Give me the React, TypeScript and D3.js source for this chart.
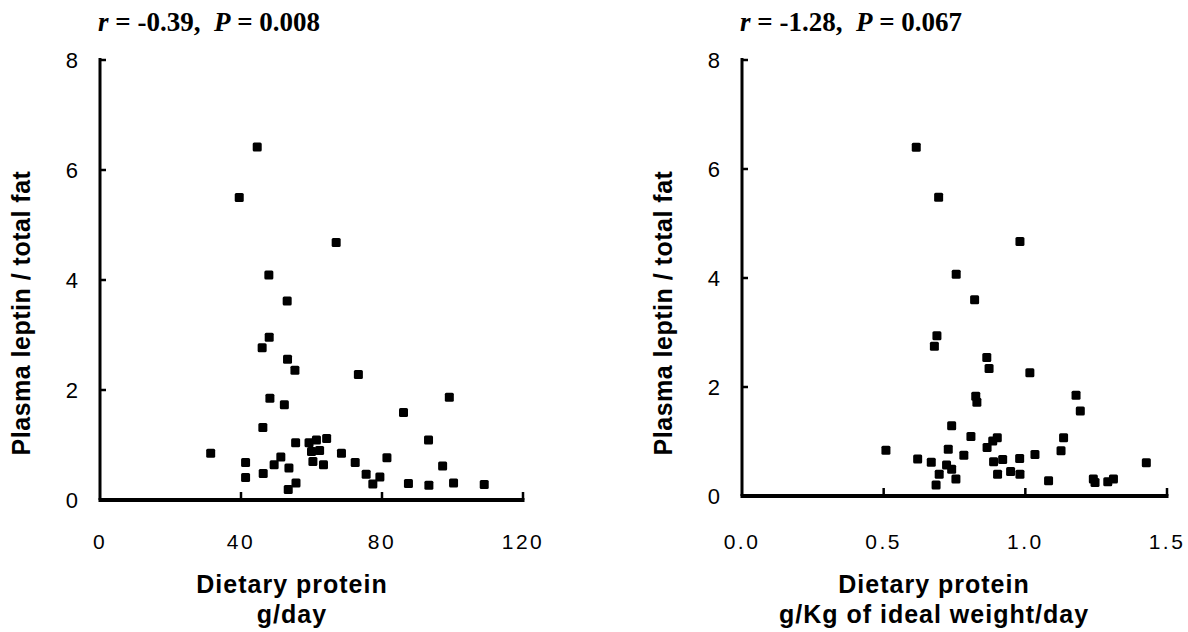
import React from "react";
import * as d3 from "d3";

// left panel: dietary protein (g/day) vs leptin / total fat
const proteinPerDay = [
  44.6, 39.5, 67.0, 47.9, 53.1, 48.0, 46.0, 53.2, 55.3, 73.3, 99.1, 48.2, 52.3, 86.1, 46.2,
  93.2, 55.5, 59.3, 61.4, 64.3, 31.4, 60.0, 62.3, 68.5, 41.3, 51.3, 49.4, 53.6, 60.4, 63.4,
  72.4, 81.4, 97.2, 41.3, 46.3, 75.5, 79.4, 77.4, 55.6, 53.4, 87.5, 93.3, 100.3, 109.0,
];
const leptinRatioA = [
  6.42, 5.5, 4.68, 4.09, 3.62, 2.96, 2.77, 2.56, 2.36, 2.28, 1.87, 1.85, 1.73, 1.59, 1.32,
  1.09, 1.04, 1.04, 1.09, 1.12, 0.85, 0.88, 0.9, 0.85, 0.68, 0.78, 0.64, 0.58, 0.7, 0.64,
  0.68, 0.77, 0.62, 0.41, 0.48, 0.47, 0.42, 0.29, 0.31, 0.19, 0.3, 0.27, 0.31, 0.28,
];

// right panel: dietary protein (g/Kg of ideal weight/day)
const proteinPerKg = [
  0.615, 0.694, 0.981, 0.756, 0.821, 0.688, 0.679, 0.864, 0.872, 1.016, 1.179, 0.825, 0.829,
  1.194, 0.74, 0.808, 1.135, 0.901, 0.885, 0.508, 0.728, 0.865, 1.126, 0.62, 0.668, 0.783,
  1.034, 0.98, 0.888, 0.92, 1.427, 0.722, 0.74, 0.696, 0.755, 0.685, 0.902, 0.948, 0.981,
  1.082, 1.24, 1.246, 1.291, 1.311,
];
const leptinRatioB = [
  6.4, 5.48, 4.67, 4.07, 3.6, 2.94, 2.75, 2.54, 2.34, 2.26, 1.85, 1.83, 1.72, 1.56, 1.29,
  1.09, 1.07, 1.07, 1.01, 0.84, 0.86, 0.89, 0.83, 0.68, 0.62, 0.75, 0.76, 0.69, 0.63, 0.67,
  0.61, 0.57, 0.49, 0.4, 0.31, 0.2, 0.4, 0.45, 0.4, 0.28, 0.31, 0.25, 0.26, 0.31,
];

const yTicks = [0, 2, 4, 6, 8];
const xTicksA = [0, 40, 80, 120];
const xTicksB = [0, 0.5, 1.0, 1.5];

const statsA = { r: "-0.39", p: "0.008" };
const statsB = { r: "-1.28", p: "0.067" };

const yTitle = "Plasma leptin / total fat";
const xTitle = "Dietary protein";
const xUnitA = "g/day";
const xUnitB = "g/Kg of ideal weight/day";

const SANS = "'Liberation Sans', Arial, Helvetica, sans-serif";
const SERIF = "'Liberation Serif', 'Times New Roman', serif";

type PanelProps = {
  xs: number[];
  ys: number[];
  xDomain: [number, number];
  xTicks: number[];
  fmt: (d: number) => string;
  left: number;
  right: number;
  bottom: number;
  stats: { r: string; p: string };
  unit: string;
};

const Panel: React.FC<PanelProps> = ({ xs, ys, xDomain, xTicks, fmt, left, right, bottom, stats, unit }) => {
  const top = 60;
  const x = d3.scaleLinear().domain(xDomain).range([left, right]);
  const y = d3.scaleLinear().domain([0, 8]).range([bottom, top]);
  const size = 9;
  const titleX = left + 192;

  return (
    <g>
      {/* stats heading */}
      <text x={left - 2} y={31} fontFamily={SERIF} fontWeight="bold" fontSize={27} xmlSpace="preserve">
        <tspan fontStyle="italic">r</tspan>
        {` = ${stats.r},  `}
        <tspan fontStyle="italic">P</tspan>
        {` = ${stats.p}`}
      </text>

      {/* axes */}
      <line x1={left} x2={left} y1={top - 2} y2={bottom} stroke="#000" strokeWidth={3} />
      <line x1={left - 1.5} x2={right + 1.5} y1={bottom} y2={bottom} stroke="#000" strokeWidth={4} />
      {yTicks.filter((t) => t > 0).map((t) => (
        <line key={"yt" + t} x1={left} x2={left + 6} y1={y(t)} y2={y(t)} stroke="#000" strokeWidth={2.5} />
      ))}
      {xTicks.filter((t) => t > 0).map((t) => (
        <line key={"xt" + t} x1={x(t)} x2={x(t)} y1={bottom} y2={bottom - 8} stroke="#000" strokeWidth={2.5} />
      ))}

      {/* tick labels */}
      {yTicks.map((t) => (
        <text key={"yl" + t} x={left - 22} y={y(t)} dy="0.36em" textAnchor="end" fontFamily={SANS} fontSize={22}>
          {t}
        </text>
      ))}
      {xTicks.map((t) => (
        <text key={"xl" + t} x={x(t)} y={549} textAnchor="middle" fontFamily={SANS} fontSize={21} letterSpacing={2.5}>
          {fmt(t)}
        </text>
      ))}

      {/* axis titles */}
      <text
        transform={`translate(${left - 70},${313}) rotate(-90)`}
        textAnchor="middle"
        fontFamily={SANS}
        fontWeight="bold"
        fontSize={25}
        letterSpacing={0.5}
      >
        {yTitle}
      </text>
      <text x={titleX} y={593} textAnchor="middle" fontFamily={SANS} fontWeight="bold" fontSize={25} letterSpacing={1}>
        {xTitle}
      </text>
      <text x={titleX} y={623} textAnchor="middle" fontFamily={SANS} fontWeight="bold" fontSize={25} letterSpacing={1}>
        {unit}
      </text>

      {/* points */}
      {xs.map((v, i) => (
        <rect
          key={i}
          x={x(v) - size / 2}
          y={y(ys[i]) - size / 2}
          width={size}
          height={size}
          rx={1.5}
          fill="#000"
        />
      ))}
    </g>
  );
};

export default function App() {
  return (
    <svg
      width={1188}
      height={632}
      viewBox="0 0 1188 632"
      style={{ position: "absolute", left: 0, top: 0, background: "#fff" }}
    >
      <rect width={1188} height={632} fill="#fff" />
      <Panel
        xs={proteinPerDay}
        ys={leptinRatioA}
        xDomain={[0, 120]}
        xTicks={xTicksA}
        fmt={(d) => String(d)}
        left={100}
        right={523}
        bottom={500}
        stats={statsA}
        unit={xUnitA}
      />
      <Panel
        xs={proteinPerKg}
        ys={leptinRatioB}
        xDomain={[0, 1.5]}
        xTicks={xTicksB}
        fmt={(d) => d.toFixed(1)}
        left={742}
        right={1167}
        bottom={496}
        stats={statsB}
        unit={xUnitB}
      />
    </svg>
  );
}
